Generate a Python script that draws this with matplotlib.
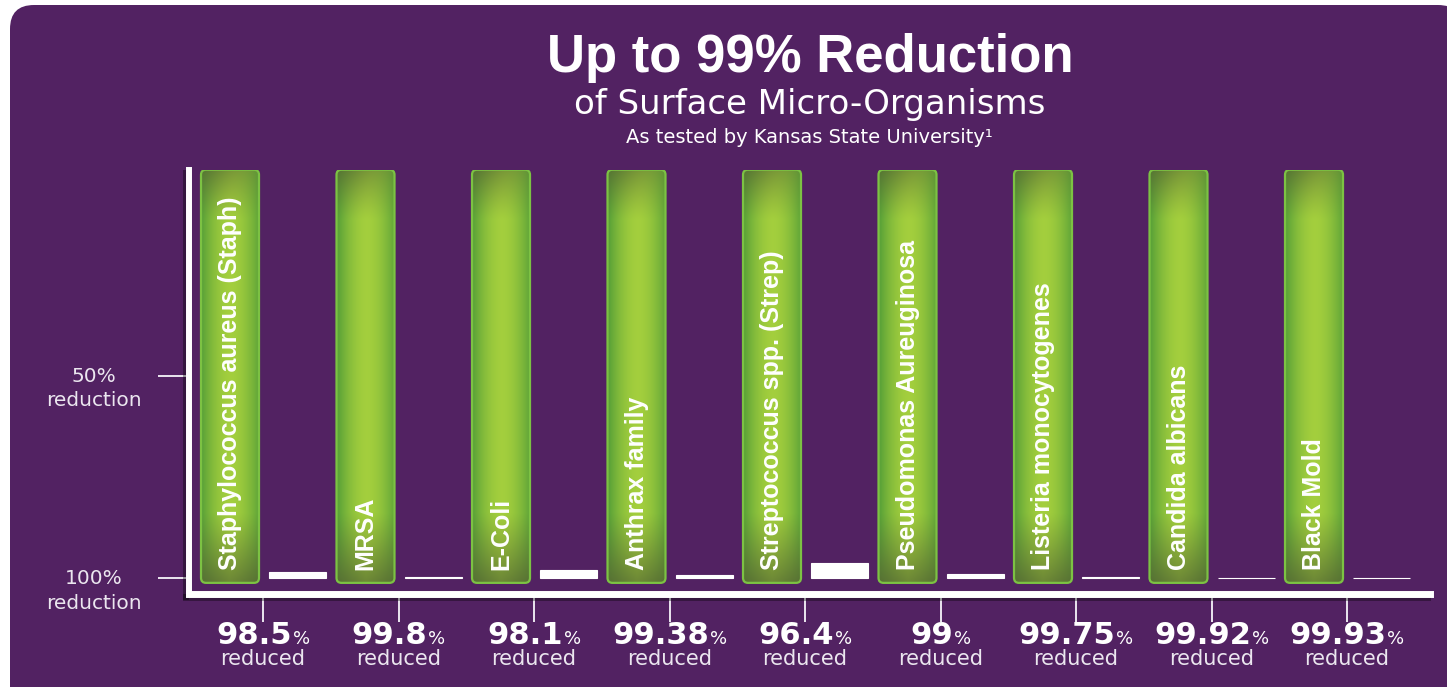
import numpy as np
import matplotlib
matplotlib.use("Agg")
import matplotlib.pyplot as plt
import matplotlib.transforms as mtransforms
from matplotlib.patches import FancyBboxPatch
from matplotlib import patheffects as pe

# ---------------- data ----------------
organisms = ["Staphylococcus aureus (Staph)", "MRSA", "E-Coli", "Anthrax family",
             "Streptococcus spp. (Strep)", "Pseudomonas Aureuginosa",
             "Listeria monocytogenes", "Candida albicans", "Black Mold"]
reduction_pct = [98.5, 99.8, 98.1, 99.38, 96.4, 99, 99.75, 99.92, 99.93]
reduction_labels = ["98.5", "99.8", "98.1", "99.38", "96.4", "99", "99.75", "99.92", "99.93"]
before_level = 100                      # organisms present before treatment (%)
ytick_values = [50, 0]                  # remaining organisms (%)
ytick_top = ["50%", "100%"]
ytick_bottom = ["reduction", "reduction"]
title = "Up to 99% Reduction"
subtitle = "of Surface Micro-Organisms"
source = "As tested by Kansas State University\u00b9"

remaining = [before_level - r for r in reduction_pct]

# ---------------- style ----------------
W, H = 1447, 687
PURPLE = "#522262"
WHITE = "white"
TICK = "#ebe6ef"

fig = plt.figure(figsize=(W / 100, H / 100), dpi=100, facecolor="white")

# background panel in pixel coordinates
bg = fig.add_axes([0, 0, 1, 1])
bg.set_xlim(0, W)
bg.set_ylim(H, 0)
bg.axis("off")
bg.add_patch(FancyBboxPatch((10, 5), 1452, 720, boxstyle="round,pad=0,rounding_size=24",
                            fc=PURPLE, ec="none"))

bg.text(810, 72, title, ha="center", va="baseline", fontsize=38, fontweight="bold",
        family="Liberation Sans", color=WHITE)
bg.text(810, 114, subtitle, ha="center", va="baseline", fontsize=24.5,
        family="DejaVu Sans", color=WHITE)
bg.text(809, 143, source, ha="center", va="baseline", fontsize=14,
        family="DejaVu Sans", color=WHITE)

# main axes
ax_left, ax_right, ax_bottom, ax_top = 189, 1430, 593.5, 170
ax = fig.add_axes([ax_left / W, 1 - ax_bottom / H, (ax_right - ax_left) / W,
                   (ax_bottom - ax_top) / H])
ax.patch.set_alpha(0)

px_per_x = 135.5
px_per_y = 4.05
zero_px_x = 263
zero_px_y = 578
xlim = (-(zero_px_x - ax_left) / px_per_x,
        (ax_right - zero_px_x) / px_per_x)
ylim = (-(ax_bottom - zero_px_y) / px_per_y, (zero_px_y - ax_top) / px_per_y)

x = np.arange(len(organisms))
green_off = -0.2435
white_off = 0.255
green_w = 0.428
white_w = 0.42


def bar_gradient(nv=300, nu=60):
    u = np.linspace(0, 1, nu)[None, :]
    v = np.linspace(0, 1, nv)[:, None]
    bright = np.array([0.64, 0.81, 0.24])
    edge = np.array([0.36, 0.64, 0.22])
    olive = np.array([0.34, 0.42, 0.20])
    t = np.clip(np.abs(u - 0.52) * 2, 0, 1) ** 1.8
    base = bright * (1 - t[..., None]) + edge * t[..., None]
    db = np.clip((0.17 - v) / 0.17, 0, 1) ** 1.1 * (0.8 + 0.2 * np.abs(u - 0.5) * 2)
    dt = np.clip((v - 0.88) / 0.12, 0, 1) ** 1.2 * (0.95 - 0.55 * u)
    d = np.maximum(db * 0.9, dt * 0.85)
    img = base * (1 - d[..., None]) + olive * d[..., None]
    return np.clip(img, 0, 1)


grad = bar_gradient()

# green "before" bars (geometry from ax.bar, drawn as rounded gradient boxes)
gbars = ax.bar(x + green_off, [before_level + 2.0] * len(x), bottom=-1.2, width=green_w,
               color="none", edgecolor="none")
r = 5 / px_per_x
asp = px_per_x / px_per_y
for rect, name in zip(gbars, organisms):
    x0, y0, w, h = rect.get_x(), rect.get_y(), rect.get_width(), rect.get_height()
    clip = FancyBboxPatch((x0, y0), w, h, boxstyle=f"round,pad=0,rounding_size={r}",
                          mutation_aspect=asp, fc="none", ec="none")
    ax.add_patch(clip)
    im = ax.imshow(grad, extent=[x0, x0 + w, y0, y0 + h], origin="lower", aspect="auto",
                   interpolation="bilinear", zorder=2)
    im.set_clip_path(clip)
    border = FancyBboxPatch((x0, y0), w, h, boxstyle=f"round,pad=0,rounding_size={r}",
                            mutation_aspect=asp, fc="none", ec="#7cc243", lw=1.6, zorder=3)
    ax.add_patch(border)
    ax.text(x0 + w / 2, 2.0, name, rotation=90, rotation_mode="anchor", ha="left",
            va="center", fontsize=18, fontweight="bold", family="Liberation Sans",
            color=WHITE, zorder=4)

# white "after" bars
ax.bar(x + white_off, remaining, width=white_w, color=WHITE, edgecolor=WHITE, lw=0.8,
       zorder=3)

ax.set_xlim(*xlim)
ax.set_ylim(*ylim)

# spines
for s in ["top", "right"]:
    ax.spines[s].set_visible(False)
shadow = [pe.SimpleLineShadow(offset=(-2, -2.5), shadow_color="black", alpha=0.35),
          pe.Normal()]
ax.spines["left"].set_color(WHITE)
ax.spines["left"].set_linewidth(4.3)
ax.spines["left"].set_capstyle("projecting")
ax.spines["left"].set_path_effects(shadow)
ax.spines["bottom"].set_color(WHITE)
ax.spines["bottom"].set_linewidth(5.0)
ax.spines["bottom"].set_capstyle("projecting")
ax.spines["bottom"].set_path_effects(shadow)

ax.set_xticks(x)
ax.set_xticklabels([])
ax.set_yticks(ytick_values)
ax.set_yticklabels([])
ax.tick_params(axis="x", direction="out", length=20.5, width=1.4, color=TICK)
ax.tick_params(axis="y", direction="out", length=22, width=1.4, color=TICK)

# y labels
trans_y = mtransforms.blended_transform_factory(bg.transData, ax.transData)
for val, top_s, bot_s in zip(ytick_values, ytick_top, ytick_bottom):
    ax.text(94, val, top_s, ha="center", va="baseline", fontsize=14.5, family="DejaVu Sans",
            color=TICK, transform=mtransforms.offset_copy(trans_y, fig=fig, y=-6,
                                                           units="dots"))
    ax.text(94, val, bot_s, ha="center", va="baseline", fontsize=14.5, family="DejaVu Sans",
            color=TICK, transform=mtransforms.offset_copy(trans_y, fig=fig, y=-31,
                                                           units="dots"))

# value labels under the axis
trans_x = mtransforms.blended_transform_factory(ax.transData, bg.transData)
renderer = fig.canvas.get_renderer()
for xi, lab in zip(x, reduction_labels):
    tn = ax.text(xi, 644, lab, ha="left", va="baseline", fontsize=22, fontweight="bold",
                 family="DejaVu Sans", color=WHITE, transform=trans_x)
    tp = ax.text(xi, 644, "%", ha="left", va="baseline", fontsize=13,
                 family="DejaVu Sans", color=WHITE, transform=trans_x)
    wn = tn.get_window_extent(renderer).width
    wp = tp.get_window_extent(renderer).width
    start = -(wn + wp + 1) / 2
    tn.set_transform(mtransforms.offset_copy(trans_x, fig=fig, x=start, units="dots"))
    tp.set_transform(mtransforms.offset_copy(trans_x, fig=fig, x=start + wn + 1,
                                             units="dots"))
    ax.text(xi, 665, "reduced", ha="center", va="baseline", fontsize=15,
            family="DejaVu Sans", color=TICK, transform=trans_x)

fig.savefig("out.png", dpi=100, facecolor=fig.get_facecolor())
